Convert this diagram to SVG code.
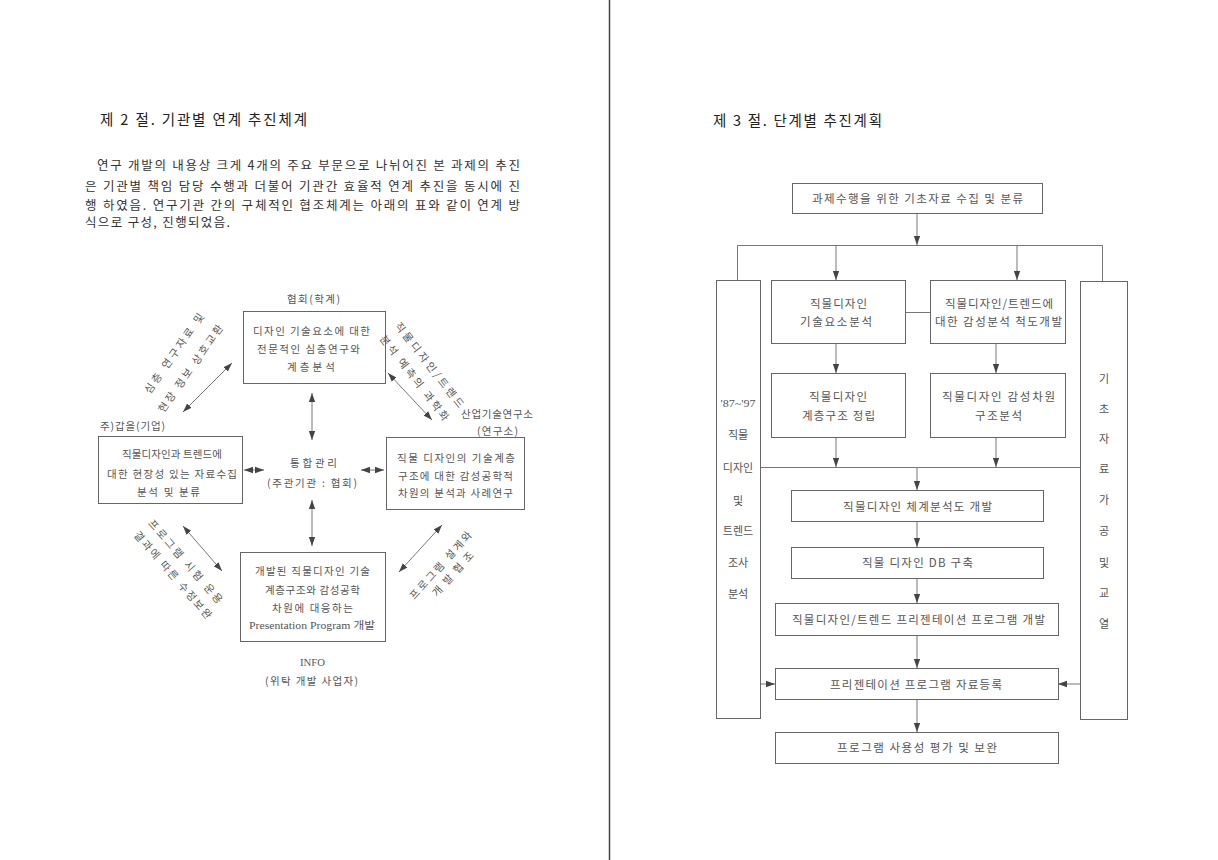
<svg xmlns="http://www.w3.org/2000/svg" width="1218" height="860" viewBox="0 0 1218 860">
<style>
.bx{fill:none;stroke:#666;stroke-width:1}
.cn line,.cn polyline{stroke:#777;stroke-width:1;fill:none}
.ar{marker-end:url(#ah)}
.da{marker-start:url(#ah);marker-end:url(#ah)}
text{font-family:"Noto Sans CJK KR","Noto Sans",sans-serif;dominant-baseline:central}
.h{font-size:14.5px;fill:#222}
.p{font-size:12.5px;fill:#333}
.d{font-size:10.5px;fill:#555;text-anchor:middle}
.r{font-size:11.5px;fill:#555;text-anchor:middle}
.v{font-size:11px;fill:#555;text-anchor:middle}
.s{font-family:"Liberation Serif","Noto Sans CJK KR",serif}
</style>
<defs>
<marker id="ah" viewBox="0 0 10 10" refX="10" refY="5" markerWidth="9" markerHeight="9" markerUnits="userSpaceOnUse" orient="auto-start-reverse">
<path d="M0,1.5 L10,5 L0,8.5 z" fill="#444"/>
</marker>
</defs>
<rect width="1218" height="860" fill="#fff"/>
<line x1="609.5" y1="0" x2="609.5" y2="860" stroke="#444" stroke-width="1.5"/>

<!-- LEFT PAGE -->
<g id="left-heading">
<text class="h" x="100" y="118" textLength="207" lengthAdjust="spacing">제 2 절. 기관별 연계 추진체계</text>
<text class="p" x="97" y="164" textLength="423" lengthAdjust="spacing">연구 개발의 내용상 크게 4개의 주요 부문으로 나뉘어진 본 과제의 추진</text>
<text class="p" x="85" y="185" textLength="435" lengthAdjust="spacing">은 기관별 책임 담당 수행과 더불어 기관간 효율적 연계 추진을 동시에 진</text>
<text class="p" x="85" y="204" textLength="435" lengthAdjust="spacing">행 하였음. 연구기관 간의 구체적인 협조체계는 아래의 표와 같이 연계 방</text>
<text class="p" x="85" y="221" textLength="145" lengthAdjust="spacing">식으로 구성, 진행되었음.</text>
</g>

<g id="node-hyeophoe">
<text class="d" x="313.5" y="298" textLength="53" lengthAdjust="spacing">협회(학계)</text>
<rect class="bx" x="243.5" y="311.5" width="142" height="72"/>
<text class="d" x="311.5" y="330" textLength="117" lengthAdjust="spacing">디자인 기술요소에 대한</text>
<text class="d" x="308.5" y="348" textLength="103" lengthAdjust="spacing">전문적인 심층연구와</text>
<text class="d" x="311" y="366" textLength="48" lengthAdjust="spacing">계층분석</text>
</g>

<g id="node-gabeul">
<text class="d" x="132.5" y="425" textLength="65" lengthAdjust="spacing">주)갑을(기업)</text>
<rect class="bx" x="98.5" y="436.5" width="144" height="67"/>
<text class="d" x="172" y="453" textLength="100" lengthAdjust="spacing">직물디자인과 트렌드에</text>
<text class="d" x="172" y="473" textLength="130" lengthAdjust="spacing">대한 현장성 있는 자료수집</text>
<text class="d" x="168.5" y="491" textLength="63" lengthAdjust="spacing">분석 및 분류</text>
</g>

<g id="node-center">
<text class="d" x="313.5" y="462" textLength="47" lengthAdjust="spacing">통합관리</text>
<text class="d" x="312" y="482" textLength="90" lengthAdjust="spacing">(주관기관 : 협회)</text>
</g>

<g id="node-institute">
<text class="d" x="497" y="413" textLength="72" lengthAdjust="spacing">산업기술연구소</text>
<text class="d" x="497.5" y="430" textLength="41" lengthAdjust="spacing">(연구소)</text>
<rect class="bx" x="386.5" y="437.5" width="138" height="72"/>
<text class="d" x="456" y="457" textLength="118" lengthAdjust="spacing">직물 디자인의 기술계층</text>
<text class="d" x="455.5" y="475" textLength="115" lengthAdjust="spacing">구조에 대한 감성공학적</text>
<text class="d" x="455.5" y="492" textLength="115" lengthAdjust="spacing">차원의 분석과 사례연구</text>
</g>

<g id="node-info">
<rect class="bx" x="240.5" y="552.5" width="145" height="89"/>
<text class="d" x="312.5" y="570" textLength="115" lengthAdjust="spacing">개발된 직물디자인 기술</text>
<text class="d" x="312.5" y="589" textLength="95" lengthAdjust="spacing">계층구조와 감성공학</text>
<text class="d" x="312.5" y="607" textLength="81" lengthAdjust="spacing">차원에 대응하는</text>
<text class="d s" x="312" y="625" textLength="126" lengthAdjust="spacingAndGlyphs">Presentation Program 개발</text>
<text class="d s" x="312.5" y="662" textLength="25" lengthAdjust="spacingAndGlyphs">INFO</text>
<text class="d" x="311.5" y="680" textLength="93" lengthAdjust="spacing">(위탁 개발 사업자)</text>
</g>

<g id="left-connectors" class="cn">
<line class="da" x1="232" y1="363" x2="183" y2="412"/>
<line class="da" x1="388" y1="373" x2="432" y2="420"/>
<line class="da" x1="183" y1="526" x2="222" y2="571"/>
<line class="da" x1="442" y1="525" x2="399" y2="572"/>
<line class="da" x1="312" y1="393" x2="312" y2="440"/>
<line class="da" x1="312" y1="500" x2="312" y2="546"/>
<line class="da" x1="244" y1="470" x2="264" y2="470"/>
<line class="da" x1="361" y1="470" x2="384" y2="470"/>
</g>

<g id="left-connector-labels">
<text class="d" font-size="11" x="173.5" y="353" transform="rotate(-55 173.5 353)" textLength="95" lengthAdjust="spacing">심층 연구자료 및</text>
<text class="d" font-size="11" x="190" y="368" transform="rotate(-55 190 368)" textLength="104" lengthAdjust="spacing">현장 정보 상호교환</text>
<text class="d" font-size="11" x="430" y="364.5" transform="rotate(52 430 364.5)" textLength="105" lengthAdjust="spacing">직물디자인/트렌드</text>
<text class="d" font-size="11" x="415" y="377.5" transform="rotate(52 415 377.5)" textLength="105" lengthAdjust="spacing">분석 예측의 과학화</text>
<text class="d" font-size="11" x="186" y="561" transform="rotate(49 186 561)" textLength="107" lengthAdjust="spacing">프로그램 시험 운용</text>
<text class="d" font-size="11" x="173.5" y="574.5" transform="rotate(49 173.5 574.5)" textLength="112" lengthAdjust="spacing">결과에 따른 수정보완</text>
<text class="d" font-size="11" x="440" y="565" transform="rotate(-48 440 565)" textLength="87" lengthAdjust="spacing">프로그램 설계와</text>
<text class="d" font-size="11" x="452.5" y="573.5" transform="rotate(-48 452.5 573.5)" textLength="56" lengthAdjust="spacing">개발협조</text>
</g>

<!-- RIGHT PAGE -->
<g id="right-heading">
<text class="h" x="713" y="119" textLength="169" lengthAdjust="spacing">제 3 절. 단계별 추진계획</text>
</g>

<g id="node-top">
<rect class="bx" x="792.5" y="183.5" width="250" height="30"/>
<text class="r" x="917.5" y="198" textLength="211" lengthAdjust="spacing">과제수행을 위한 기초자료 수집 및 분류</text>
</g>

<g id="node-leftcol">
<rect class="bx" x="716.5" y="280.5" width="44" height="438"/>
<text class="v s" x="738" y="403" textLength="35" lengthAdjust="spacingAndGlyphs">'87~'97</text>
<text class="v" x="738" y="434">직물</text>
<text class="v" x="738" y="467">디자인</text>
<text class="v" x="738" y="500">및</text>
<text class="v" x="738" y="530">트렌드</text>
<text class="v" x="738" y="562">조사</text>
<text class="v" x="738" y="593">분석</text>
</g>

<g id="node-rightcol">
<rect class="bx" x="1080.5" y="281.5" width="47" height="438"/>
<text class="v" x="1104" y="378">기</text>
<text class="v" x="1104" y="408">초</text>
<text class="v" x="1104" y="438">자</text>
<text class="v" x="1104" y="468">료</text>
<text class="v" x="1104" y="499">가</text>
<text class="v" x="1104" y="530">공</text>
<text class="v" x="1104" y="562">및</text>
<text class="v" x="1104" y="592">교</text>
<text class="v" x="1104" y="623">열</text>
</g>

<g id="node-a">
<rect class="bx" x="771.5" y="280.5" width="134" height="63"/>
<text class="r" x="838.5" y="303" textLength="57" lengthAdjust="spacing">직물디자인</text>
<text class="r" x="836" y="321" textLength="72" lengthAdjust="spacing">기술요소분석</text>
</g>
<g id="node-b">
<rect class="bx" x="930.5" y="280.5" width="135" height="63"/>
<text class="r" x="999" y="303" textLength="108" lengthAdjust="spacing">직물디자인/트렌드에</text>
<text class="r" x="998.5" y="321" textLength="127" lengthAdjust="spacing">대한 감성분석 척도개발</text>
</g>
<g id="node-c">
<rect class="bx" x="771.5" y="373.5" width="134" height="64"/>
<text class="r" x="838" y="396" textLength="58" lengthAdjust="spacing">직물디자인</text>
<text class="r" x="838.5" y="415" textLength="73" lengthAdjust="spacing">계층구조 정립</text>
</g>
<g id="node-d">
<rect class="bx" x="930.5" y="373.5" width="135" height="64"/>
<text class="r" x="998.5" y="396" textLength="113" lengthAdjust="spacing">직물디자인 감성차원</text>
<text class="r" x="998.5" y="415" textLength="47" lengthAdjust="spacing">구조분석</text>
</g>
<g id="node-e">
<rect class="bx" x="791.5" y="490.5" width="252" height="31"/>
<text class="r" x="917.5" y="506" textLength="149" lengthAdjust="spacing">직물디자인 체계분석도 개발</text>
</g>
<g id="node-f">
<rect class="bx" x="791.5" y="547.5" width="252" height="31"/>
<text class="r" x="917.5" y="562" textLength="111" lengthAdjust="spacing">직물 디자인 DB 구축</text>
</g>
<g id="node-g">
<rect class="bx" x="775.5" y="603.5" width="283" height="32"/>
<text class="r" x="918.5" y="619" textLength="253" lengthAdjust="spacing">직물디자인/트렌드 프리젠테이션 프로그램 개발</text>
</g>
<g id="node-h">
<rect class="bx" x="775.5" y="668.5" width="283" height="31"/>
<text class="r" x="916" y="684" textLength="172" lengthAdjust="spacing">프리젠테이션 프로그램 자료등록</text>
</g>
<g id="node-i">
<rect class="bx" x="775.5" y="732.5" width="283" height="31"/>
<text class="r" x="917" y="747" textLength="160" lengthAdjust="spacing">프로그램 사용성 평가 및 보완</text>
</g>

<g id="right-connectors" class="cn">
<line class="ar" x1="917" y1="214" x2="917" y2="245"/>
<polyline points="737.5,280 737.5,245.5 1102.5,245.5 1102.5,281"/>
<line class="ar" x1="836" y1="246" x2="836" y2="280"/>
<line class="ar" x1="1017" y1="246" x2="1017" y2="280"/>
<line x1="906" y1="312.5" x2="930" y2="312.5"/>
<line class="ar" x1="836" y1="344" x2="836" y2="373"/>
<line class="ar" x1="996" y1="344" x2="996" y2="373"/>
<line class="ar" x1="836" y1="438" x2="836" y2="467"/>
<line class="ar" x1="996" y1="438" x2="996" y2="467"/>
<line x1="761" y1="467.5" x2="1080" y2="467.5"/>
<line class="ar" x1="917" y1="468" x2="917" y2="490"/>
<line class="ar" x1="917" y1="522" x2="917" y2="547"/>
<line class="ar" x1="917" y1="579" x2="917" y2="603"/>
<line class="ar" x1="917" y1="636" x2="917" y2="668"/>
<line class="ar" x1="917" y1="700" x2="917" y2="732"/>
<line class="ar" x1="761" y1="684" x2="775" y2="684"/>
<line class="ar" x1="1080" y1="684" x2="1058" y2="684"/>
</g>
</svg>
